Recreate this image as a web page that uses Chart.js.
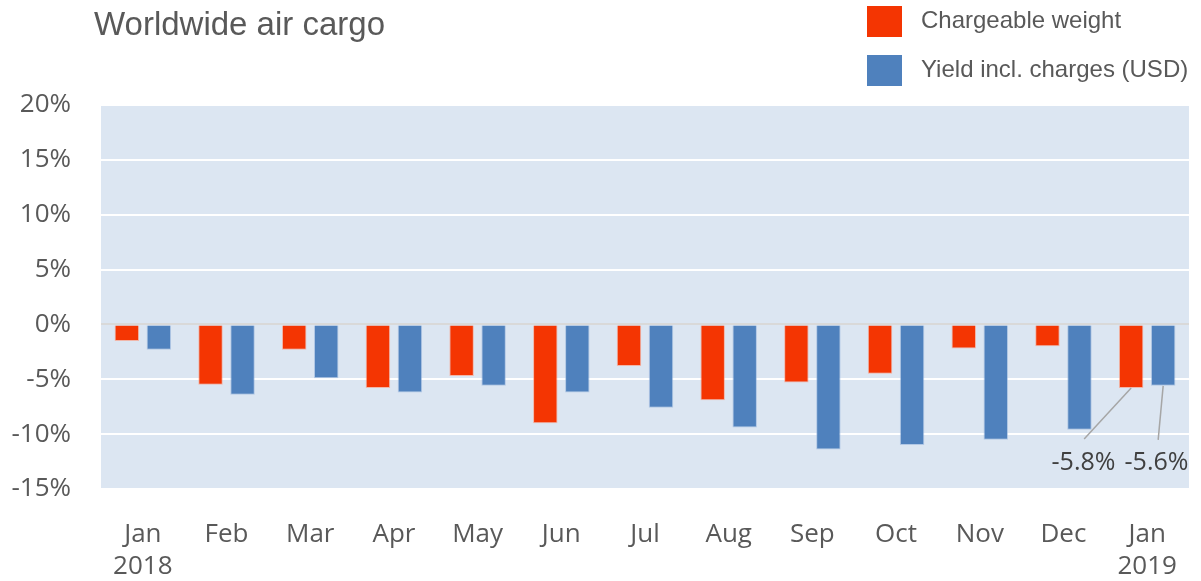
<!DOCTYPE html>
<html>
<head>
<meta charset="utf-8">
<script src="https://cdn.jsdelivr.net/npm/chart.js@4.4.1/dist/chart.umd.min.js"></script>
<style>
html,body{margin:0;padding:0;background:#fff;}
#wrap{position:relative;width:1201px;height:581px;}
</style>
</head>
<body>
<div id="wrap"><canvas id="c" width="1201" height="581"></canvas></div>
<script>
const titleText = 'Worldwide air cargo';
const categories = [['Jan','2018'],'Feb','Mar','Apr','May','Jun','Jul','Aug','Sep','Oct','Nov','Dec',['Jan','2019']];
const seriesNames = ['Chargeable weight', 'Yield incl. charges (USD)'];
const chargeableWeight = [-1.5, -5.5, -2.3, -5.8, -4.7, -9.0, -3.8, -6.9, -5.3, -4.5, -2.2, -2.0, -5.8];
const yieldInclCharges = [-2.3, -6.4, -4.9, -6.2, -5.6, -6.2, -7.6, -9.4, -11.4, -11.0, -10.5, -9.6, -5.6];
const yTicks = [-15, -10, -5, 0, 5, 10, 15, 20];
const annotatedIndex = 12;

const RED = '#F43502';
const BLUE = '#4F81BD';
const TICK_FONT = '"Open Sans", sans-serif';
const ARIAL = '"Liberation Sans", Arial, sans-serif';

const bgPlugin = {
  id: 'plotBg',
  beforeDraw(chart) {
    const {ctx, chartArea: a} = chart;
    ctx.save();
    ctx.fillStyle = '#DCE6F2';
    ctx.fillRect(a.left, a.top, a.right - a.left, a.bottom - a.top);
    ctx.restore();
  }
};

const decorPlugin = {
  id: 'decor',
  afterDraw(chart) {
    const ctx = chart.ctx;
    ctx.save();
    // Title
    ctx.fillStyle = '#595959';
    ctx.font = '33px ' + ARIAL;
    ctx.textBaseline = 'alphabetic';
    ctx.textAlign = 'left';
    ctx.fillText(titleText, 94, 35);
    // Legend
    const items = chart.data.datasets;
    const ys = [6, 55];
    items.forEach((ds, i) => {
      ctx.fillStyle = ds.backgroundColor;
      ctx.fillRect(867, ys[i], 35, 31);
      ctx.fillStyle = '#595959';
      ctx.font = '24px ' + ARIAL;
      ctx.textBaseline = 'middle';
      ctx.fillText(ds.label, 921, ys[i] + 15.5);
    });
    // Annotations for last month
    const yScale = chart.scales.y;
    const offsets = [{tx: -47, ty: 51}, {tx: -5, ty: 54}];
    const labelX = [1083.5, 1156.5];
    items.forEach((ds, i) => {
      const bar = chart.getDatasetMeta(i).data[annotatedIndex];
      const v = ds.data[annotatedIndex];
      const y0 = yScale.getPixelForValue(v);
      ctx.strokeStyle = '#A6A6A6';
      ctx.lineWidth = 1.5;
      ctx.beginPath();
      ctx.moveTo(bar.x, y0);
      ctx.lineTo(bar.x + offsets[i].tx, y0 + offsets[i].ty);
      ctx.stroke();
      ctx.fillStyle = '#404040';
      ctx.font = '25px ' + TICK_FONT;
      ctx.textAlign = 'center';
      ctx.textBaseline = 'middle';
      ctx.fillText(v.toFixed(1) + '%', labelX[i], 463);
      ctx.textAlign = 'left';
    });
    ctx.restore();
  }
};

new Chart(document.getElementById('c'), {
  type: 'bar',
  data: {
    labels: categories,
    datasets: [
      {label: seriesNames[0], data: chargeableWeight, backgroundColor: RED, borderColor: 'rgba(255,150,120,0.6)', borderWidth: 1},
      {label: seriesNames[1], data: yieldInclCharges, backgroundColor: BLUE, borderColor: 'rgba(150,180,220,0.6)', borderWidth: 1}
    ]
  },
  options: {
    responsive: false,
    animation: false,
    events: [],
    layout: {padding: {top: 105, right: 12, bottom: 0, left: 0}},
    datasets: {bar: {categoryPercentage: 0.765, barPercentage: 0.765}},
    plugins: {legend: {display: false}, title: {display: false}, tooltip: {enabled: false}},
    scales: {
      x: {
        grid: {display: false, drawTicks: false},
        border: {display: false},
        ticks: {color: '#595959', font: {family: TICK_FONT, size: 26, lineHeight: 1.25}, padding: 29, maxRotation: 0, autoSkip: false},
        afterFit(s) { s.height = 92; s.paddingLeft = 0; s.paddingRight = 0; }
      },
      y: {
        min: -15, max: 20,
        afterBuildTicks(s) { s.ticks = yTicks.map(v => ({value: v})); },
        grid: {
          drawTicks: false,
          color: c => c.tick && c.tick.value === 0 ? '#D9D9D9' : '#FFFFFF',
          lineWidth: 2
        },
        border: {display: false},
        ticks: {color: '#595959', font: {family: TICK_FONT, size: 26}, padding: 30, callback: v => v + '%'},
        afterFit(s) { s.width = 101; s.paddingTop = 0; s.paddingBottom = 0; }
      }
    }
  },
  plugins: [bgPlugin, decorPlugin]
});
</script>
</body>
</html>
